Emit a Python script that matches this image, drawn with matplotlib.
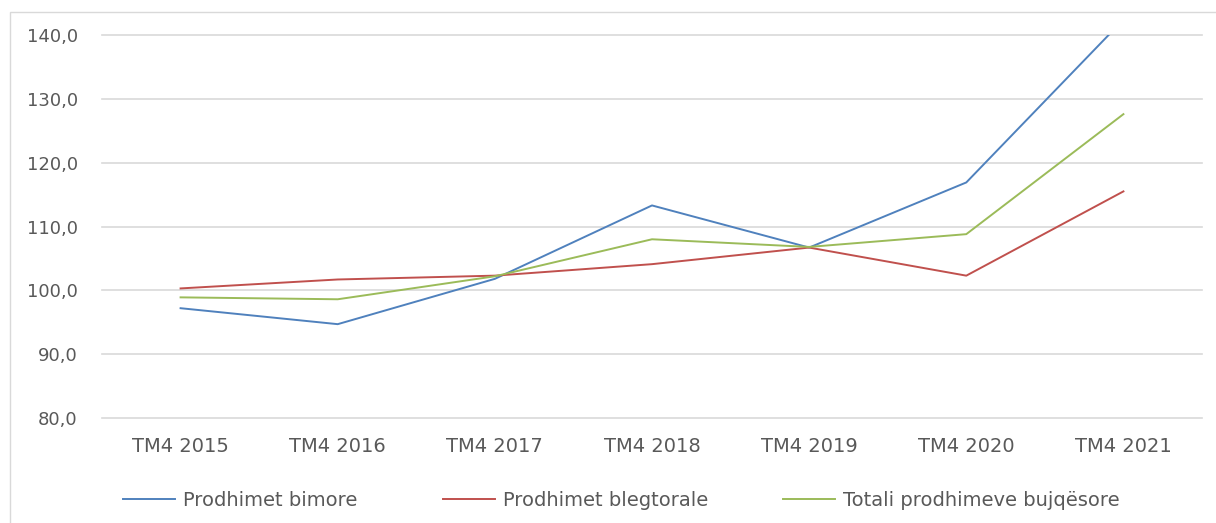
import matplotlib

matplotlib.use("Agg")
import matplotlib.pyplot as plt
from matplotlib.patches import Rectangle
from matplotlib.ticker import FuncFormatter

plt.rcParams["font.family"] = ["DejaVu Sans"]

CATEGORIES = ["TM4 2015", "TM4 2016", "TM4 2017", "TM4 2018", "TM4 2019", "TM4 2020", "TM4 2021"]
BIMORE = [97.2, 94.7, 101.8, 113.3, 106.7, 116.9, 142.4]
BLEGTORALE = [100.3, 101.7, 102.3, 104.1, 106.7, 102.3, 115.5]
TOTALI = [98.9, 98.6, 102.2, 108.0, 106.8, 108.8, 127.6]
SERIES_NAMES = ["Prodhimet bimore", "Prodhimet blegtorale", "Totali prodhimeve bujqësore"]
Y_TICKS = [80, 90, 100, 110, 120, 130, 140]

COLORS = ["#4F81BD", "#C0504D", "#9BBB59"]
TEXT = "#595959"
GRID = "#d9d9d9"

W, H = 1216, 523
fig = plt.figure(figsize=(W / 100, H / 100), dpi=100)

# outer chart frame (runs off the right/bottom edges)
fig.patches.append(Rectangle((10 / W, -0.05), 1.2, 1 - 12 / H + 0.05, transform=fig.transFigure,
                             fill=False, edgecolor=GRID, linewidth=1.0))

ax = fig.add_axes([102 / W, 1 - 418 / H, (1202 - 102) / W, (418 - 35) / H])
x = range(len(CATEGORIES))
lines = []
for vals, name, color in zip([BIMORE, BLEGTORALE, TOTALI], SERIES_NAMES, COLORS):
    ln, = ax.plot(x, vals, color=color, linewidth=1.4, label=name, zorder=3)
    lines.append(ln)

ax.set_xlim(-0.5, len(CATEGORIES) - 0.5)
ax.set_ylim(80, 140)
ax.set_yticks(Y_TICKS)
ax.yaxis.set_major_formatter(FuncFormatter(lambda v, _: f"{v:.1f}".replace(".", ",")))
ax.set_xticks(list(x))
ax.set_xticklabels(CATEGORIES)
ax.tick_params(axis="both", length=0, colors=TEXT)
ax.tick_params(axis="y", pad=17.5, labelsize=13)
ax.tick_params(axis="x", pad=14, labelsize=14)
for yv in Y_TICKS:
    ax.axhline(yv, color=GRID, linewidth=1.2, clip_on=False, zorder=1)
for s in ax.spines.values():
    s.set_visible(False)

# Excel-style legend: three entries at uneven positions
for ln, xpos in zip(lines, [123, 443, 783]):
    leg = fig.legend(handles=[ln], loc="center left", bbox_to_anchor=(xpos / W, 1 - 500 / H),
                     frameon=False, fontsize=14, handlelength=2.68, handletextpad=0.41,
                     borderpad=0, borderaxespad=0)
    for t in leg.get_texts():
        t.set_color(TEXT)

fig.savefig("out.png", dpi=100)
